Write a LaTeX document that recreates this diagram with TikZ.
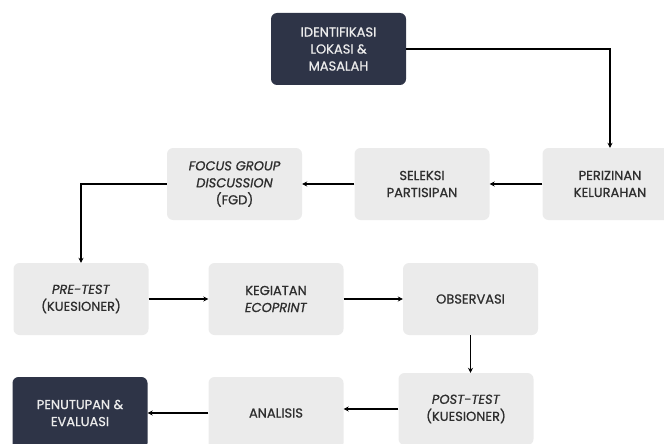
\documentclass[tikz,border=0pt]{standalone}
\usepackage{fontspec}
\setmainfont{Poppins}[FakeBold=0.8]
\usetikzlibrary{arrows.meta}
\definecolor{darkbox}{HTML}{2E3447}
\definecolor{lightbox}{HTML}{EBEBEB}
\begin{document}
\begin{tikzpicture}[x=1pt,y=-1pt,
  box/.style={rectangle, rounded corners=6pt, minimum width=135pt, minimum height=72pt, inner sep=0pt, align=center, font=\fontsize{13}{17}\selectfont},
  lightb/.style={box, fill=lightbox, text=black!82},
  darkb/.style={box, fill=darkbox, text=white!92!black},
  conn/.style={draw=black, line width=1.1pt, -{Stealth[length=5pt,width=5pt]}}]
\useasboundingbox (0,0) rectangle (664,444);
\begin{scope}
\clip (0,0) rectangle (664,444);
\node[darkb] (ident) at (338.5,49) {IDENTIFIKASI\\LOKASI \&\\MASALAH};
\node[lightb] (periz) at (610,184) {PERIZINAN\\KELURAHAN};
\node[lightb] (sel) at (422,184) {SELEKSI\\PARTISIPAN};
\node[lightb] (fgd) at (234.5,184) {\textit{FOCUS GROUP}\\\textit{DISCUSSION}\\(FGD)};
\node[lightb] (pre) at (81,299) {\textit{PRE-TEST}\\(KUESIONER)};
\node[lightb] (keg) at (276,299) {KEGIATAN\\\textit{ECOPRINT}};
\node[lightb] (obs) at (470.5,299) {OBSERVASI};
\node[lightb] (post) at (466,409) {\textit{POST-TEST}\\(KUESIONER)};
\node[lightb] (ana) at (276,413) {ANALISIS};
\node[darkb] (pen) at (80,413) {PENUTUPAN \&\\EVALUASI};
\end{scope}
\draw[conn] (ident.east) -| (periz.north);
\draw[conn] (periz.west) -- (sel.east);
\draw[conn] (sel.west) -- (fgd.east);
\draw[conn] (fgd.west) -| (pre.north);
\draw[conn] (pre.east) -- (keg.west);
\draw[conn] (keg.east) -- (obs.west);
\draw[conn] (obs.south) -- (obs.south |- post.north);
\draw[conn] (post.west) -- (post.west -| ana.east);
\draw[conn] (ana.west) -- (pen.east);
\end{tikzpicture}
\end{document}
